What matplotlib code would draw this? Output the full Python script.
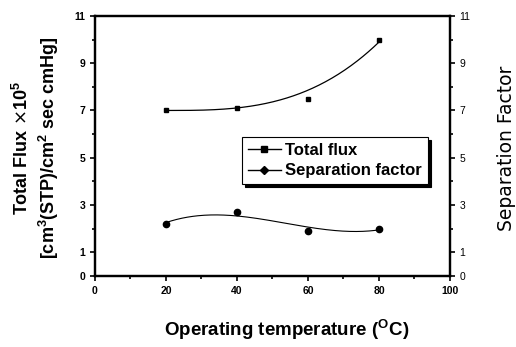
import numpy as np
import matplotlib.pyplot as plt
from matplotlib.ticker import FixedLocator, MultipleLocator

temperature = [20, 40, 60, 80]
total_flux = [7.0, 7.1, 7.5, 10.0]
separation_factor = [2.2, 2.7, 1.9, 2.0]
y_ticks = [0, 1, 3, 5, 7, 9, 11]
x_ticks = [0, 20, 40, 60, 80, 100]

plt.rcParams['font.family'] = ['Liberation Sans', 'DejaVu Sans']

fig = plt.figure(figsize=(5.16, 3.47), dpi=100)
ax = fig.add_axes([0.184, 0.205, 0.688, 0.749])

# smooth trend lines fitted to the points (flux anchored at first point)
xs = np.linspace(20, 80, 200)
t = np.array(temperature, float)
u = (t - 20) ** 3
y0 = total_flux[0]
b = np.sum(u * (np.array(total_flux) - y0)) / np.sum(u * u)
flux_fit = y0 + b * (xs - 20) ** 3
sep_fit = np.polyval(np.polyfit(temperature, separation_factor, 3), xs)
sep_smooth = np.polyval(np.polyfit(temperature, separation_factor, 2), xs)
sep_line = 0.5 * sep_fit + 0.5 * sep_smooth

ax.plot(xs, flux_fit, color='black', lw=0.9)
ax.plot(xs, sep_line, color='black', lw=0.8)
ax.plot(temperature, total_flux, 's', color='black', ms=3.5)
ax.plot(temperature, separation_factor, 'o', color='black', ms=4.5)

# legend proxies
ax.plot([], [], '-s', color='black', ms=4, lw=1, label='Total flux')
ax.plot([], [], '-D', color='black', ms=4, lw=1, label='Separation factor')
leg = ax.legend(loc='upper left', bbox_to_anchor=(0.414, 0.535), frameon=True,
                fancybox=False, shadow={'color': 'black', 'alpha': 1},
                edgecolor='black', handlelength=2.0, handletextpad=0.25,
                borderpad=0.35, labelspacing=0.35, borderaxespad=0,
                prop={'weight': 'bold', 'size': 12})
leg.get_frame().set_linewidth(0.8)

ax.set_xlim(0, 100)
ax.set_ylim(0, 11)
ax.xaxis.set_major_locator(FixedLocator(x_ticks))
ax.xaxis.set_minor_locator(MultipleLocator(10))
ax.yaxis.set_major_locator(FixedLocator(y_ticks))
ax.yaxis.set_minor_locator(MultipleLocator(1))
for s in ax.spines.values():
    s.set_linewidth(1.6)
ax.tick_params(which='both', direction='out', width=1.2, labelsize=7.5)
ax.tick_params(which='major', length=3.5)
ax.tick_params(which='minor', length=2)
for lab in ax.get_xticklabels() + ax.get_yticklabels():
    lab.set_fontweight('bold')

ax2 = ax.twinx()
ax2.set_ylim(0, 11)
ax2.yaxis.set_major_locator(FixedLocator(y_ticks))
ax2.yaxis.set_minor_locator(MultipleLocator(1))
ax2.tick_params(which='both', direction='out', width=1.2, labelsize=7.5)
ax2.tick_params(which='major', length=3.5)
ax2.tick_params(which='minor', length=2)
for s in ax2.spines.values():
    s.set_linewidth(1.6)

fig.text(0.556, 0.05, 'Operating temperature ($^{\\mathregular{O}}$C)', fontsize=13.5,
         fontweight='bold', ha='center', va='center')
fig.text(0.071, 0.573, 'Total Flux $\\times$10$^{\\mathregular{5}}$\n'
         '[cm$^{\\mathregular{3}}$(STP)/cm$^{\\mathregular{2}}$ sec cmHg]',
         fontsize=13, fontweight='bold', rotation=90, ha='center', va='center',
         multialignment='center', linespacing=1.25)
fig.text(0.982, 0.573, 'Separation Factor', fontsize=13.5, rotation=90,
         ha='center', va='center', family='DejaVu Sans')

fig.savefig('out.png', dpi=100)
